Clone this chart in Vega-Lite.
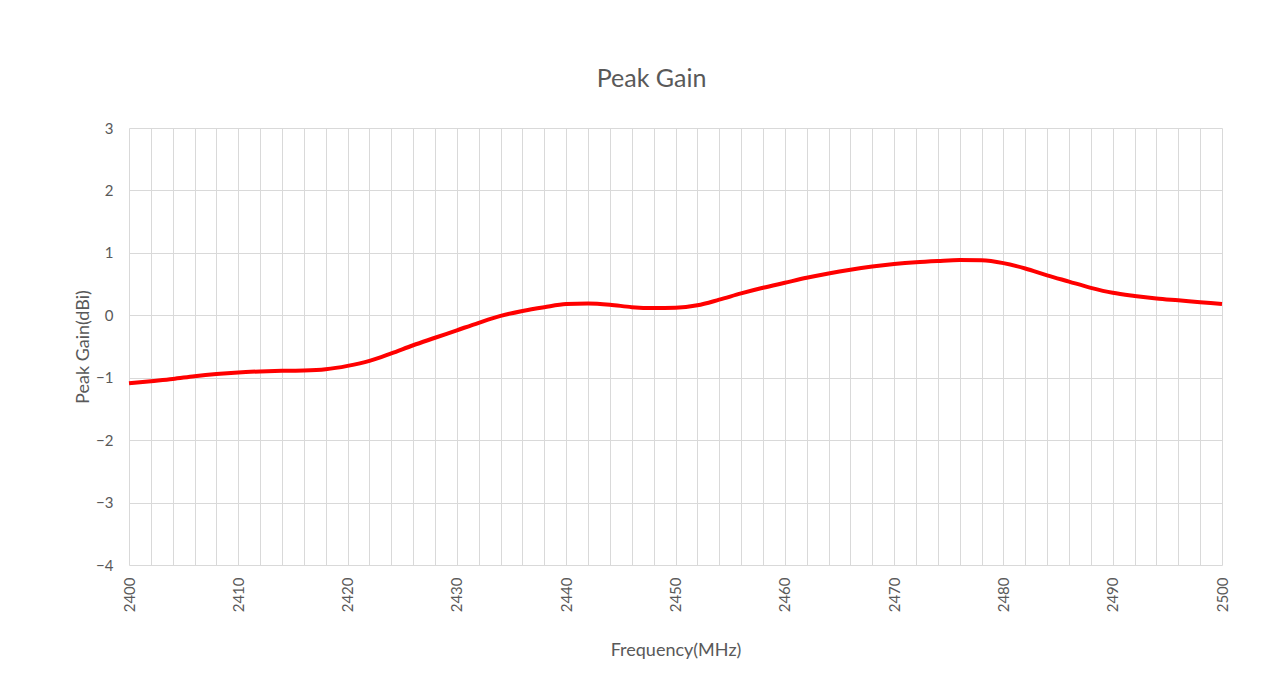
{
  "$schema": "https://vega.github.io/schema/vega-lite/v6.json",
  "autosize": {"type": "none"},
  "padding": {"left": 129, "top": 128, "right": 55, "bottom": 118},
  "width": 1093,
  "height": 437,
  "background": "white",
  "title": {
    "text": "Peak Gain",
    "font": "Lato",
    "fontSize": 25,
    "fontWeight": "normal",
    "color": "#595959",
    "anchor": "middle",
    "frame": "group",
    "baseline": "alphabetic",
    "offset": 9,
    "dx": -24
  },
  "config": {
    "view": {"stroke": null},
    "axis": {
      "labelFont": "Lato",
      "titleFont": "Lato",
      "labelColor": "#595959",
      "titleColor": "#595959",
      "labelFontSize": 15,
      "titleFontSize": 18,
      "titleFontWeight": "normal",
      "gridColor": "#d9d9d9",
      "gridWidth": 1,
      "domain": false,
      "ticks": false
    }
  },
  "data": {
    "values": [
      {"freq": 2400, "gain": -1.09},
      {"freq": 2402, "gain": -1.055},
      {"freq": 2404, "gain": -1.02},
      {"freq": 2406, "gain": -0.975},
      {"freq": 2408, "gain": -0.94},
      {"freq": 2410, "gain": -0.915},
      {"freq": 2412, "gain": -0.9},
      {"freq": 2414, "gain": -0.89},
      {"freq": 2416, "gain": -0.885},
      {"freq": 2418, "gain": -0.865},
      {"freq": 2420, "gain": -0.81},
      {"freq": 2422, "gain": -0.73},
      {"freq": 2424, "gain": -0.61},
      {"freq": 2426, "gain": -0.48},
      {"freq": 2428, "gain": -0.36},
      {"freq": 2430, "gain": -0.24},
      {"freq": 2432, "gain": -0.12},
      {"freq": 2434, "gain": -0.01},
      {"freq": 2436, "gain": 0.07},
      {"freq": 2438, "gain": 0.13},
      {"freq": 2440, "gain": 0.18},
      {"freq": 2442, "gain": 0.19},
      {"freq": 2444, "gain": 0.17},
      {"freq": 2446, "gain": 0.13},
      {"freq": 2448, "gain": 0.115},
      {"freq": 2450, "gain": 0.12},
      {"freq": 2452, "gain": 0.16},
      {"freq": 2454, "gain": 0.25},
      {"freq": 2456, "gain": 0.35},
      {"freq": 2458, "gain": 0.44},
      {"freq": 2460, "gain": 0.52},
      {"freq": 2462, "gain": 0.6},
      {"freq": 2464, "gain": 0.67},
      {"freq": 2466, "gain": 0.73},
      {"freq": 2468, "gain": 0.78},
      {"freq": 2470, "gain": 0.82},
      {"freq": 2472, "gain": 0.85},
      {"freq": 2474, "gain": 0.87},
      {"freq": 2476, "gain": 0.885},
      {"freq": 2478, "gain": 0.88},
      {"freq": 2480, "gain": 0.835},
      {"freq": 2482, "gain": 0.75},
      {"freq": 2484, "gain": 0.64},
      {"freq": 2486, "gain": 0.54},
      {"freq": 2488, "gain": 0.44},
      {"freq": 2490, "gain": 0.36},
      {"freq": 2492, "gain": 0.31},
      {"freq": 2494, "gain": 0.27},
      {"freq": 2496, "gain": 0.24},
      {"freq": 2498, "gain": 0.21},
      {"freq": 2500, "gain": 0.18}
    ]
  },
  "mark": {"type": "line", "color": "#ff0000", "strokeWidth": 4, "interpolate": "monotone"},
  "encoding": {
    "x": {
      "field": "freq",
      "type": "quantitative",
      "scale": {"domain": [2400, 2500], "nice": false, "zero": false},
      "axis": {
        "title": "Frequency(MHz)",
        "values": [2400,2402,2404,2406,2408,2410,2412,2414,2416,2418,2420,2422,2424,2426,2428,2430,2432,2434,2436,2438,2440,2442,2444,2446,2448,2450,2452,2454,2456,2458,2460,2462,2464,2466,2468,2470,2472,2474,2476,2478,2480,2482,2484,2486,2488,2490,2492,2494,2496,2498,2500],
        "labelExpr": "datum.value % 10 === 0 ? datum.value + '' : ''",
        "labelAngle": 270,
        "labelAlign": "right",
        "labelBaseline": "middle",
        "labelPadding": 12,
        "titlePadding": 30
      }
    },
    "y": {
      "field": "gain",
      "type": "quantitative",
      "scale": {"domain": [-4, 3], "nice": false, "zero": false},
      "axis": {
        "title": "Peak Gain(dBi)",
        "values": [-4, -3, -2, -1, 0, 1, 2, 3],
        "labelPadding": 16,
        "titlePadding": 3
      }
    }
  }
}
